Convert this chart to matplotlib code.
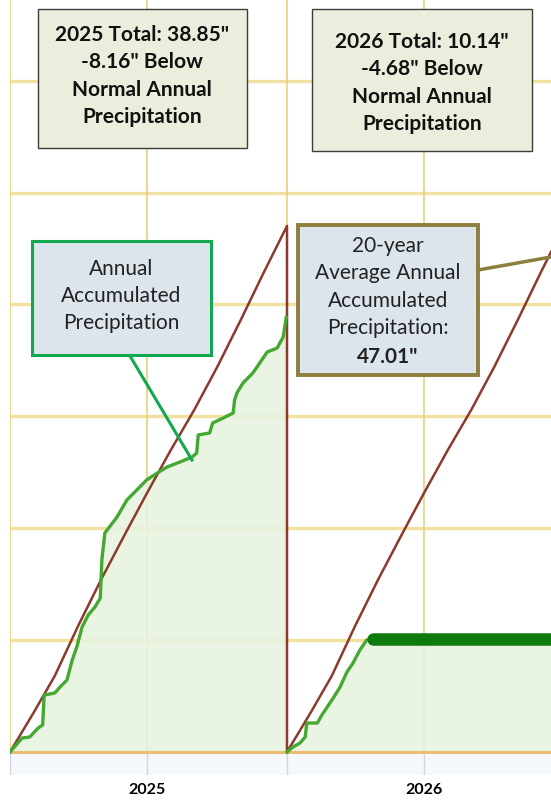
import matplotlib
matplotlib.use("Agg")
import matplotlib.pyplot as plt
from matplotlib.patches import Rectangle
from matplotlib.lines import Line2D

plt.rcParams['font.family'] = ['Lato', 'DejaVu Sans']

W, H = 551, 800

# normal (20-yr average) cumulative precipitation, inches, by day of year
normal_days = [0, 31, 59, 90, 120, 151, 181, 212, 243, 273, 304, 334, 365]
normal_cum = [0, 3.5, 6.8, 11.3, 15.4, 19.4, 23.2, 27.0, 30.6, 34.4, 38.6, 42.8, 47.01]

# 2025 observed accumulated precipitation
days_2025 = [0, 16, 26, 37, 43, 45, 59, 66, 75, 82, 88, 95, 103, 112, 119, 121, 125,
             141, 154, 167, 180, 194, 207, 224, 240, 246, 248, 263, 267, 281, 294,
             296, 299, 307, 320, 329, 339, 352, 360, 364]
precip_2025 = [0, 1.25, 1.34, 2.14, 2.41, 5.09, 5.27, 5.81, 6.43, 8.22, 9.38, 11.17,
               12.24, 12.96, 13.76, 17.16, 19.57, 21.0, 22.52, 23.41, 24.31, 24.93,
               25.47, 25.92, 26.36, 26.72, 28.33, 28.51, 29.40, 29.85, 30.29, 31.46,
               32.08, 32.98, 33.87, 34.76, 35.75, 36.10, 37.09, 38.85]

# 2026 observed accumulated precipitation (to date)
days_2026 = [0, 8, 17, 24, 26, 40, 46, 53, 61, 70, 79, 87, 96, 105, 113]
precip_2026 = [0, 0.45, 0.80, 1.34, 2.59, 2.59, 3.31, 4.02, 4.83, 5.81, 7.15, 7.95,
               9.11, 10.0, 10.14]

year_labels = ['2025', '2026']
total_2025, below_2025 = '38.85', '-8.16'
total_2026, below_2026 = '10.14', '-4.68'
normal_total = '47.01'

fig = plt.figure(figsize=(W / 100, H / 100), dpi=100)
ax = fig.add_axes([10 / W, 25 / H, 541 / W, 775 / H])
xmax = 541 / 277 * 365
ax.set_xlim(0, xmax)
ax.set_ylim(-23 / 11.19, 752 / 11.19)

# grid
ax.axhspan(-3, 0, color='#F6F9FB', zorder=0)
for yv in range(10, 70, 10):
    ax.axhline(yv, color='#F1E1A0', lw=2.4, zorder=1)
for xv in [0, 181, 365, 546]:
    ax.plot([xv, xv], [0, 70], color='#E6D27A', lw=1.2, zorder=1)
    ax.plot([xv, xv], [-2.1, 0], color='#D3D3E3', lw=1.0, zorder=1)
ax.axhline(0, color='#EBBE70', lw=2.2, zorder=2)

# fills
d26 = [365 + d for d in days_2026]
ax.fill_between(days_2025 + [365], precip_2025 + [precip_2025[-1]], 0,
                color='#E7F3DF', alpha=0.9, zorder=1.5, lw=0)
ax.fill_between(d26 + [xmax], precip_2026 + [precip_2026[-1]], 0,
                color='#E7F3DF', alpha=0.9, zorder=1.5, lw=0)

# normal line (resets each year)
nx = normal_days + [365 + d for d in normal_days]
ny = normal_cum + normal_cum
ax.plot(nx, ny, color='#8A3B2B', lw=1.8, zorder=3)

# observed lines
ax.plot(days_2025, precip_2025, color='#45A832', lw=2.4, zorder=4)
ax.plot(d26, precip_2026, color='#45A832', lw=2.4, zorder=4)
ax.plot([d26[-1], xmax], [precip_2026[-1]] * 2, color='#0C7A0C', lw=9,
        solid_capstyle='round', zorder=4)

ax.set_xticks([181, 546])
ax.set_xticklabels(year_labels, fontweight='bold', fontsize=11.5)
ax.tick_params(axis='x', length=0, pad=6)
ax.set_yticks([])
for s in ax.spines.values():
    s.set_visible(False)


def fx(x):
    return x / W


def fy(y):
    return 1 - y / H


def box(x0, y0, x1, y1, face, edge, lw):
    fig.add_artist(Rectangle((fx(x0), fy(y1)), fx(x1) - fx(x0), fy(y0) - fy(y1),
                             transform=fig.transFigure, facecolor=face,
                             edgecolor=edge, lw=lw, zorder=10))


def line(x0, y0, x1, y1, color, lw):
    fig.add_artist(Line2D([fx(x0), fx(x1)], [fy(y0), fy(y1)],
                          transform=fig.transFigure, color=color, lw=lw, zorder=9))


FS = 15
LS = 1.45

# year total boxes
box(38, 9, 247, 148, '#EAEEDC', '#3C3C3C', 1.0)
fig.text(fx(142), fy(76),
         f'2025 Total: {total_2025}"\n{below_2025}" Below\nNormal Annual\nPrecipitation',
         ha='center', va='center', fontsize=FS, fontweight='bold',
         linespacing=LS, color='#111111', zorder=11)
box(312, 9, 532, 151, '#EAEEDC', '#3C3C3C', 1.0)
fig.text(fx(422), fy(83),
         f'2026 Total: {total_2026}"\n{below_2026}" Below\nNormal Annual\nPrecipitation',
         ha='center', va='center', fontsize=FS, fontweight='bold',
         linespacing=LS, color='#111111', zorder=11)

# callouts
line(130, 356, 192, 460, '#12A84E', 2.2)
box(32, 241, 211, 355, '#DCE4EC', '#12A84E', 2.2)
fig.text(fx(121), fy(296), 'Annual\nAccumulated\nPrecipitation',
         ha='center', va='center', fontsize=FS, linespacing=LS,
         color='#222222', zorder=11)

line(478, 270, 551, 257, '#8C7F3E', 2.5)
box(298, 225, 478, 375, '#DCE4EC', '#8C7F3E', 2.8)
fig.text(fx(388), fy(287), '20-year\nAverage Annual\nAccumulated\nPrecipitation:',
         ha='center', va='center', fontsize=FS, linespacing=LS,
         color='#222222', zorder=11)
fig.text(fx(388), fy(357), f'{normal_total}"', ha='center', va='center',
         fontsize=FS, fontweight='bold', color='#222222', zorder=11)

fig.savefig('out.png', dpi=100, facecolor='white')
